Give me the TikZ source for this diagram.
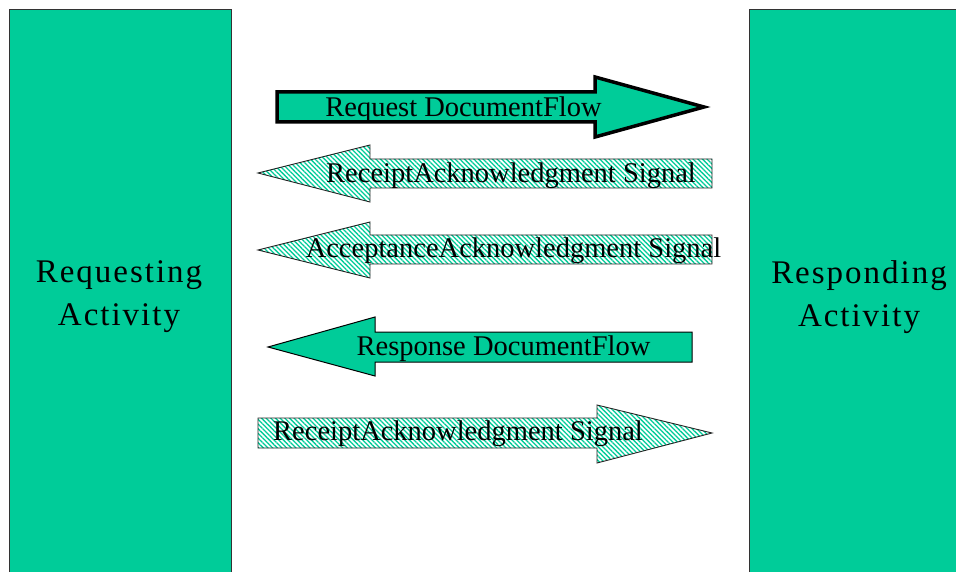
\documentclass[tikz,border=0pt]{standalone}
\usepackage{fontspec}
\setmainfont{Liberation Serif}
\newfontfamily\actfont[LetterSpace=6]{Liberation Serif}
\usetikzlibrary{patterns.meta}
\definecolor{actgreen}{HTML}{00CC99}
\tikzset{
	activity/.style={fill=actgreen, draw=black!80, line width=1pt},
	flowarrow/.style={fill=actgreen, draw=black, line width=1pt, line join=miter},
	signalarrow/.style={pattern={Lines[angle=-45, distance=3.3pt, line width=1.3pt]}, pattern color=actgreen, draw=black!85, line width=0.9pt},
	actlabel/.style={align=center, font=\actfont\fontsize{33}{43}\selectfont},
	arrowlabel/.style={anchor=base, inner sep=0pt, font=\fontsize{28.5}{32}\selectfont}
}
\begin{document}
\begin{tikzpicture}[x=1pt, y=-1pt]
	\useasboundingbox[fill=white] (0, 0) rectangle (956, 572);
	% Aktivitaeten
	\filldraw[activity] (9, 10) rectangle (231, 580);
	\node[actlabel] (requesting) at (119, 297) {Requesting\\Activity};
	\filldraw[activity] (749, 10) rectangle (975, 580);
	\node[actlabel] (responding) at (859, 297) {Responding\\Activity};
	% Request DocumentFlow
	\filldraw[flowarrow, line width=3.5pt] (277, 92) -- (595, 92) -- (595, 77) -- (704, 107)
	-- (595, 137) -- (595, 122) -- (277, 122) -- cycle;
	\node[arrowlabel] (request) at (463.5, 117) {Request DocumentFlow};
	% ReceiptAcknowledgment Signal
	\filldraw[signalarrow] (712, 159) -- (370, 159) -- (370, 145) -- (258, 173)
	-- (370, 202) -- (370, 188) -- (712, 188) -- cycle;
	\node[arrowlabel] (receipt) at (511, 183) {ReceiptAcknowledgment Signal};
	% AcceptanceAcknowledgment Signal
	\filldraw[signalarrow] (712, 235) -- (370, 235) -- (370, 222) -- (258, 250)
	-- (370, 278) -- (370, 264) -- (712, 264) -- cycle;
	\node[arrowlabel] (acceptance) at (513.5, 258) {AcceptanceAcknowledgment Signal};
	% Response DocumentFlow
	\filldraw[flowarrow] (692, 332) -- (375, 332) -- (375, 317) -- (268, 347)
	-- (375, 376) -- (375, 362) -- (692, 362) -- cycle;
	\node[arrowlabel] (response) at (503.5, 355) {Response DocumentFlow};
	% ReceiptAcknowledgment Signal (zurueck)
	\filldraw[signalarrow] (258, 418) -- (597, 418) -- (597, 405) -- (712, 433)
	-- (597, 463) -- (597, 448) -- (258, 448) -- cycle;
	\node[arrowlabel] (receiptback) at (458, 440) {ReceiptAcknowledgment Signal};
\end{tikzpicture}
\end{document}
